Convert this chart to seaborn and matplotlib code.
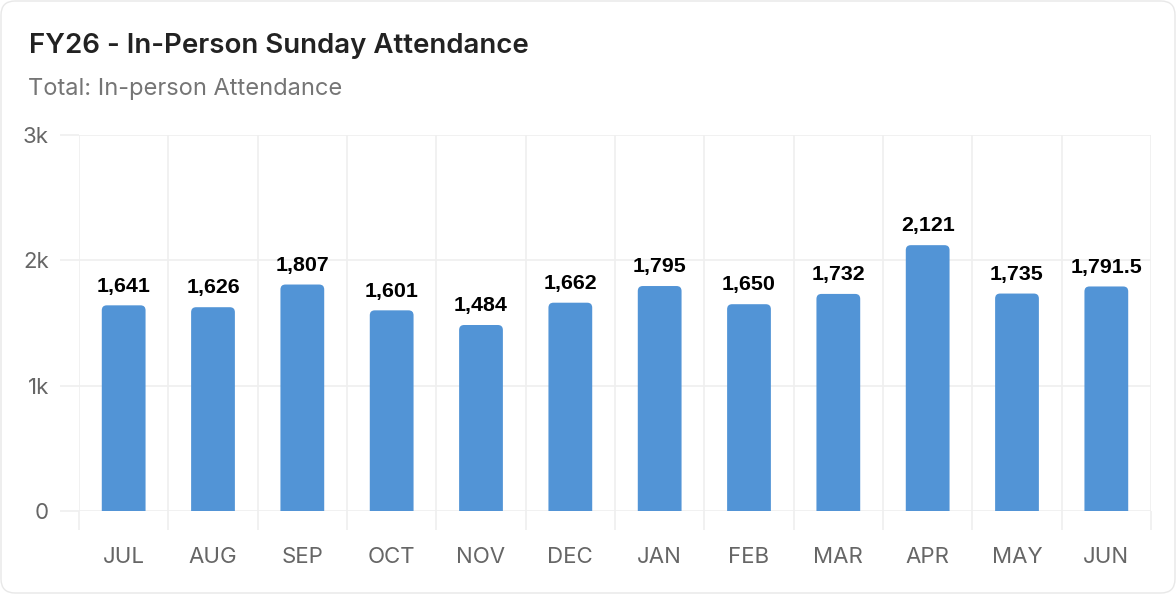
import matplotlib
matplotlib.use("Agg")
import matplotlib.pyplot as plt
import seaborn as sns
import pandas as pd
from matplotlib.patches import FancyBboxPatch
from matplotlib.ticker import FixedLocator

# data
months = ["JUL", "AUG", "SEP", "OCT", "NOV", "DEC", "JAN", "FEB", "MAR", "APR", "MAY", "JUN"]
attendance = [1641, 1626, 1807, 1601, 1484, 1662, 1795, 1650, 1732, 2121, 1735, 1791.5]
y_ticks = [0, 1000, 2000, 3000]
y_tick_labels = ["0", "1k", "2k", "3k"]

title = "FY26 - In-Person Sunday Attendance"
subtitle = "Total: In-person Attendance"

BAR_COLOR = "#5294d6"
GRID_COLOR = "#efefef"
TICK_COLOR = "#666666"

sns.set_theme(style="white")
plt.rcParams["font.family"] = ["Inter", "DejaVu Sans"]

df = pd.DataFrame({"month": months, "value": attendance})

fig = plt.figure(figsize=(11.76, 5.94), dpi=100)
W, H = 1176, 594

# card outline
card = FancyBboxPatch((1 / W, 1 / H), 1 - 2 / W, 1 - 2 / H,
                      boxstyle="round,pad=0,rounding_size=0.012",
                      transform=fig.transFigure, facecolor="white",
                      edgecolor="#e8e8e8", linewidth=1.0,
                      mutation_aspect=W / H, zorder=-10)
fig.patches.append(card)

ax = fig.add_axes([79 / W, 1 - 511 / H, (1151 - 79) / W, (511 - 135) / H])
ax.set_facecolor("none")

sns.barplot(data=df, x="month", y="value", color=BAR_COLOR, width=0.49,
            saturation=1, ax=ax, zorder=3)

ax.set_xlim(-0.5, len(months) - 0.5)
ax.set_ylim(0, 3000)

# rounded-top bars built from the seaborn bar geometry
px_x = (1151 - 79) / len(months)
px_y = (511 - 135) / 3000
r_px = 5
for p in ax.patches[:]:
    x0, w, h = p.get_x(), p.get_width(), p.get_height()
    rx = r_px / px_x
    ry = r_px / px_y
    rp = FancyBboxPatch((x0, -ry * 2), w, h + ry * 2,
                        boxstyle=f"round,pad=0,rounding_size={rx}",
                        mutation_aspect=ry / rx,
                        facecolor=BAR_COLOR, edgecolor="none", zorder=3)
    ax.add_patch(rp)
    p.set_visible(False)

labels = [f"{v:,.1f}" if v % 1 else f"{int(v):,}" for v in attendance]
ax.bar_label(ax.containers[0], labels=labels, padding=7,
             fontsize=15.4, fontweight="bold", color="black",
             family=["Liberation Sans", "DejaVu Sans"])

# grid and ticks
for s in ax.spines.values():
    s.set_visible(False)
ax.yaxis.set_major_locator(FixedLocator(y_ticks))
ax.set_yticklabels(y_tick_labels)
ax.xaxis.set_minor_locator(FixedLocator([i - 0.5 for i in range(len(months) + 1)]))
ax.grid(axis="y", which="major", color=GRID_COLOR, linewidth=1.2, zorder=0)
ax.grid(axis="x", which="minor", color=GRID_COLOR, linewidth=1.2, zorder=0)
ax.grid(axis="x", which="major", visible=False)
ax.tick_params(axis="y", which="major", length=13.7, width=1.2, color=GRID_COLOR,
               pad=8, labelsize=16, labelcolor=TICK_COLOR, left=True)
ax.tick_params(axis="x", which="minor", length=13.7, width=1.2, color=GRID_COLOR,
               bottom=True)
ax.tick_params(axis="x", which="major", length=0, pad=26,
               labelsize=16, labelcolor=TICK_COLOR)
ax.set_xlabel("")
ax.set_ylabel("")

fig.text(29 / W, 1 - 46 / H, title, fontsize=19.9, fontweight="semibold",
         color="#222222", va="center", ha="left")
fig.text(28 / W, 1 - 89 / H, subtitle, fontsize=17, color="#757575",
         va="center", ha="left")

fig.savefig("out.png", dpi=100)
